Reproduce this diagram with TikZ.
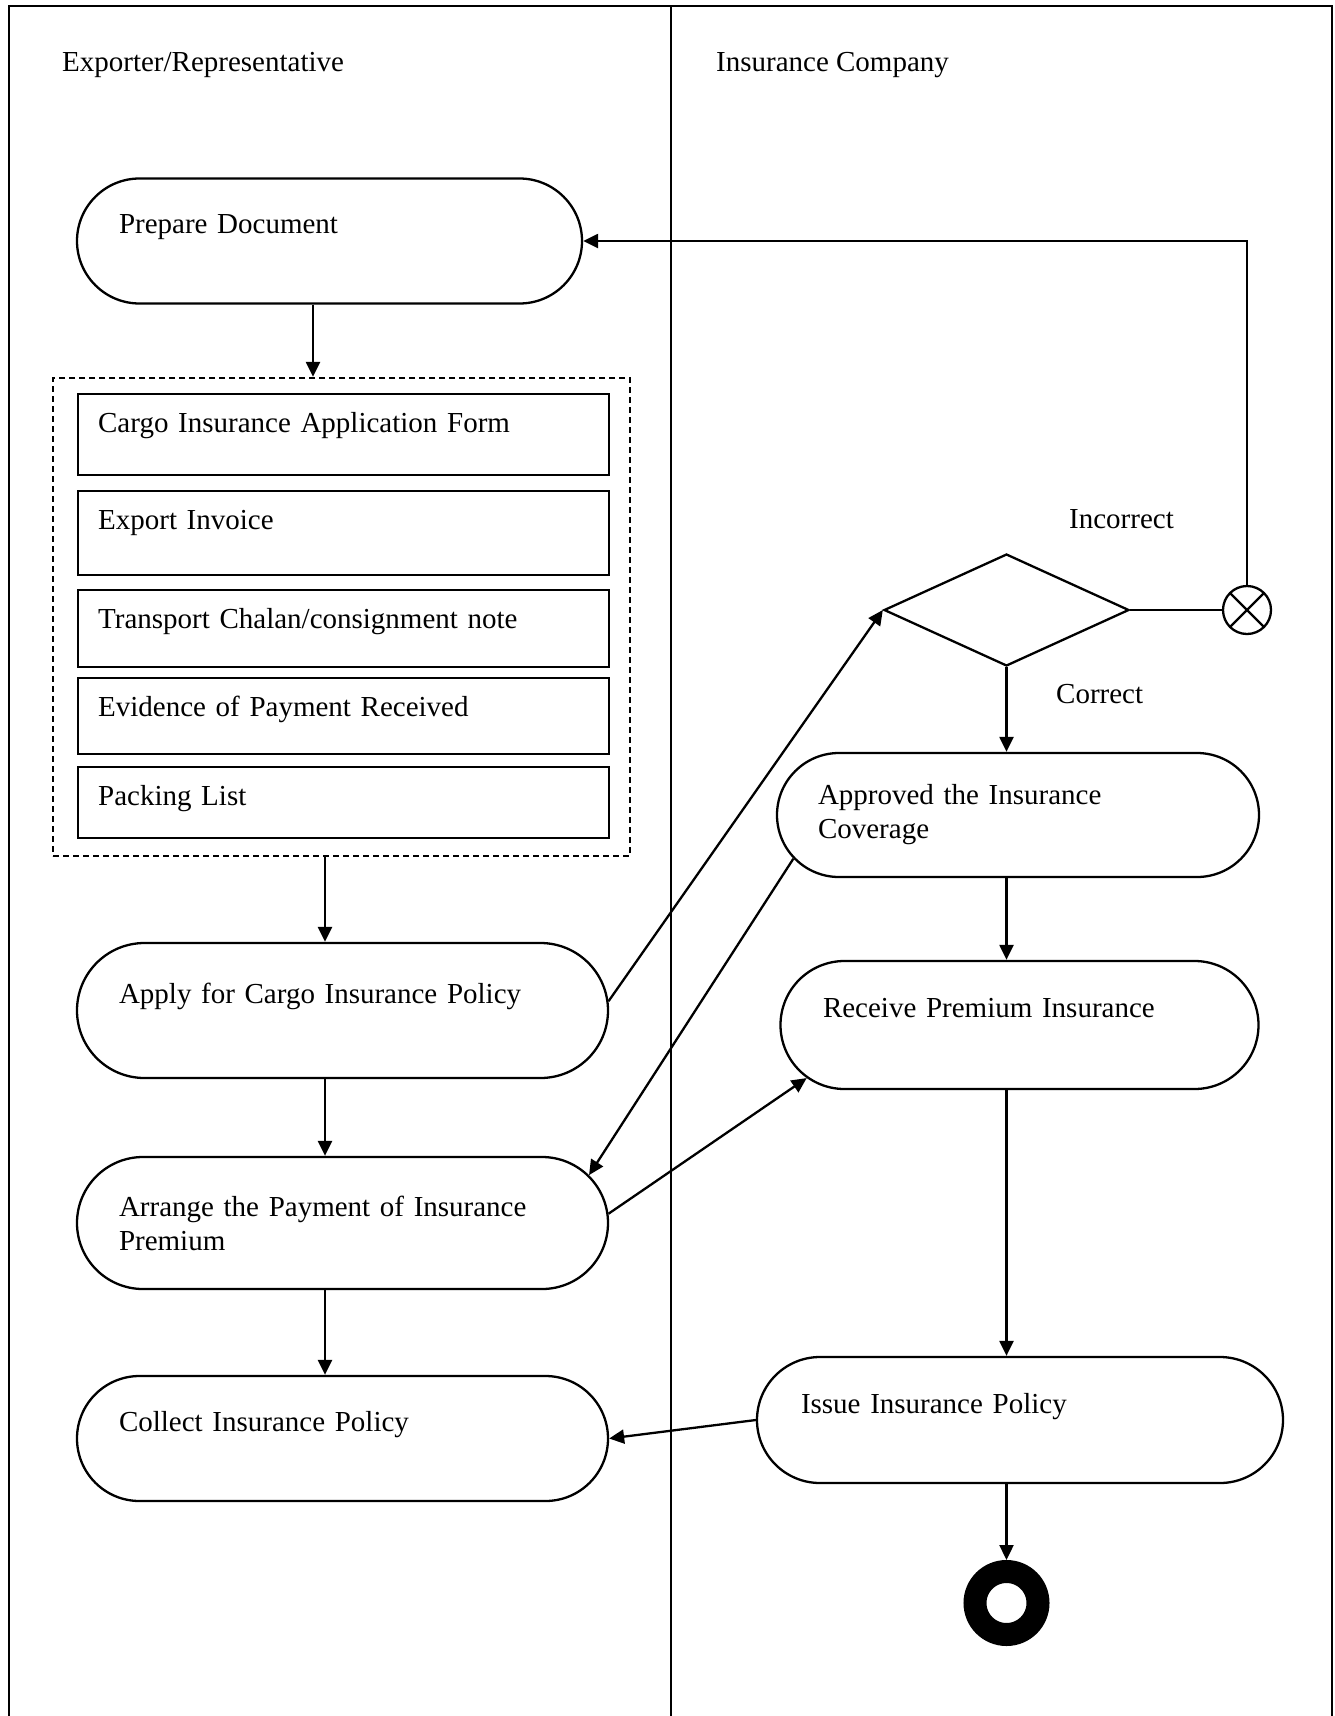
\documentclass[tikz,border=0pt]{standalone}
\usepackage{fontspec}
\setmainfont{Liberation Serif}
\usetikzlibrary{positioning,calc,shapes.geometric,shapes.misc,arrows.meta}

\begin{document}
\begin{tikzpicture}[x=1pt,y=-1pt,line width=2.3pt,
    every node/.style={font=\fontsize{29}{34}\selectfont},
    activity/.style={rounded rectangle,draw,inner sep=0pt},
    doc/.style={rectangle,draw,anchor=north west,minimum width=531pt,inner xsep=20pt,inner ysep=0pt,
                text width=491pt,align=left,text height=38.5pt},
    plain/.style={anchor=base west,inner sep=0pt},
    flow/.style={-{Triangle[length=15pt,width=14pt]}}]
\useasboundingbox (0,0) rectangle (1335,1716);
% lanes
\draw (9,1716) -- (9,6) -- (1332,6) -- (1332,1716);
\draw (671,6) -- (671,1716);
\node[plain] (exporter) at (61,71) {Exporter/Representative};
\node[plain] (insurer) at (715,71) {Insurance Company};

% exporter side
\node[activity,minimum width=505pt,minimum height=125pt,
      label={[text width=421pt,align=left]center:Prepare Document\\~}] (prepare) at (329.5,241) {};
\node[draw,dash pattern=on 6pt off 4pt,minimum width=577pt,minimum height=478pt,inner sep=0pt] (docs) at (341.5,617) {};
\node[doc,text depth=42.5pt] (form) at (77,393) {Cargo Insurance Application Form};
\node[doc,text depth=45.5pt] (invoice) at (77,490) {Export Invoice};
\node[doc,text depth=38.5pt] (chalan) at (77,589) {Transport Chalan/consignment note};
\node[doc,text depth=37.5pt] (evidence) at (77,677) {Evidence of Payment Received};
\node[doc,text depth=32.5pt] (packing) at (77,766) {Packing List};
\node[activity,minimum width=531pt,minimum height=135pt,
      label={[text width=447pt,align=left]center:Apply for Cargo Insurance Policy\\~}] (apply) at (342.5,1010.5) {};
\node[activity,minimum width=531pt,minimum height=132pt,
      label={[text width=447pt,align=left]center:Arrange the Payment of Insurance\\Premium}] (arrange) at (342.5,1223) {};
\node[activity,minimum width=531pt,minimum height=125pt,
      label={[text width=447pt,align=left]center:Collect Insurance Policy\\~}] (collect) at (342.5,1438.5) {};

% insurer side
\node[diamond,draw,minimum width=245pt,minimum height=112pt,inner sep=0pt] (check) at (1006.5,610) {};
\node[circle,draw,minimum size=48pt,inner sep=0pt,
      path picture={\draw (path picture bounding box.north west) -- (path picture bounding box.south east)
                          (path picture bounding box.north east) -- (path picture bounding box.south west);}] (reject) at (1247,610) {};
\node[plain] (incorrect) at (1068,528) {Incorrect};
\node[plain] (correct) at (1055,703) {Correct};
\node[activity,minimum width=482pt,minimum height=124pt,
      label={[text width=400pt,align=left]center:Approved the Insurance\\Coverage}] (approve) at (1018,815) {};
\node[activity,minimum width=478pt,minimum height=128pt,
      label={[text width=393pt,align=left]center:Receive Premium Insurance\\~}] (receive) at (1019.5,1025) {};
\node[activity,minimum width=526pt,minimum height=126pt,
      label={[text width=438pt,align=left]center:Issue Insurance Policy\\~}] (issue) at (1020,1420) {};
\node[circle,draw,line width=23pt,minimum size=63pt,inner sep=0pt] (final) at (1006.5,1603) {};

% connectors
\coordinate (prepflow) at (313,0);
\coordinate (leftflow) at (325,0);
\draw[flow] (prepare.south -| prepflow) -- (docs.north -| prepflow);
\draw[flow] (docs.south -| leftflow) -- (apply.north -| leftflow);
\draw[flow] (apply.south -| leftflow) -- (arrange.north -| leftflow);
\draw[flow] (arrange.south -| leftflow) -- (collect.north -| leftflow);
\draw[flow] (apply.2) -- (check.west);
\draw (check.east) -- (reject.west);
\draw[flow] (reject.north) |- (prepare.east);
\draw[flow] (check.south) -- (approve.north -| check);
\draw[flow] (approve.south -| check) -- (receive.north -| check);
\draw[flow] (receive.south -| check) -- (issue.north -| check);
\draw[flow] (issue.south -| check) -- (final.north);
\draw[flow] (approve.191) -- (arrange.11);
\draw[flow] (arrange.2) -- (receive.194);
\draw[flow] (issue.west) -- (collect.east);
\end{tikzpicture}
\end{document}
